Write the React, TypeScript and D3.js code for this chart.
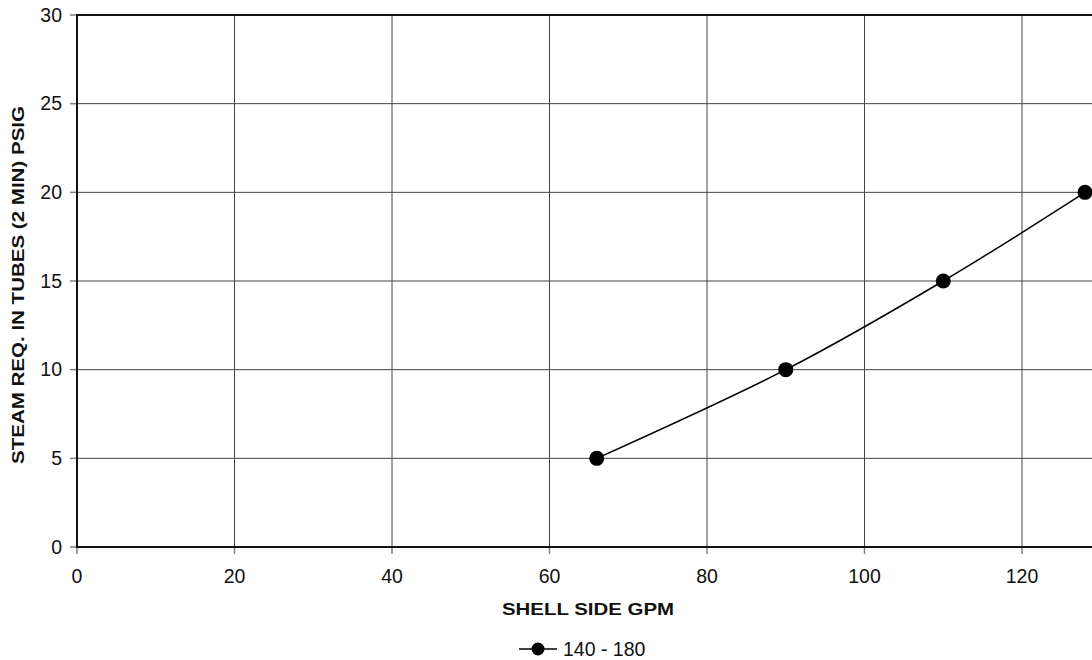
import React from "react";
import * as d3 from "d3";

const gpm = [66, 90, 110, 128];
const psig = [5, 10, 15, 20];
const xTicks = [0, 20, 40, 60, 80, 100, 120, 140];
const yTicks = [0, 5, 10, 15, 20, 25, 30];
const seriesName = "140 - 180";
const xTitle = "SHELL SIDE GPM";
const yTitle = "STEAM REQ. IN TUBES (2 MIN) PSIG";

const W = 1092;
const H = 660;
const left = 77;
const top = 15;
const bottom = 547;

export default function App() {
  const x = d3.scaleLinear().domain([0, 140]).range([left, left + 140 * 7.875]);
  const y = d3.scaleLinear().domain([0, 30]).range([bottom, top]);
  const pts: [number, number][] = gpm.map((g, i) => [x(g), y(psig[i])]);
  const line = d3.line().curve(d3.curveCardinal.tension(0))(pts) || "";
  const right = x(140);
  const font = "'Liberation Sans', Arial, sans-serif";
  return (
    <svg width={W} height={H} style={{ position: "absolute", left: 0, top: 0 }} fontFamily={font}>
      <rect x={0} y={0} width={W} height={H} fill="#fff" />
      {yTicks.slice(1).map((t) => (
        <line key={"gy" + t} x1={left} x2={right} y1={y(t)} y2={y(t)} stroke="#444" strokeWidth={1} />
      ))}
      {xTicks.slice(1).map((t) => (
        <line key={"gx" + t} x1={x(t)} x2={x(t)} y1={top} y2={bottom} stroke="#444" strokeWidth={1} />
      ))}
      {yTicks.map((t) => (
        <g key={"ty" + t}>
          <line x1={left - 7} x2={left} y1={y(t)} y2={y(t)} stroke="#808080" strokeWidth={1.5} />
          <text x={62} y={y(t)} dy="0.35em" textAnchor="end" fontSize={19.5} fill="#111">
            {t}
          </text>
        </g>
      ))}
      {xTicks.map((t) => (
        <g key={"tx" + t}>
          <line x1={x(t)} x2={x(t)} y1={bottom} y2={bottom + 7} stroke="#808080" strokeWidth={1.5} />
          {x(t) < W - 20 && (
            <text x={x(t)} y={583} textAnchor="middle" fontSize={19.5} fill="#111">
              {t}
            </text>
          )}
        </g>
      ))}
      <rect x={left} y={top} width={right - left} height={bottom - top} fill="none" stroke="#111" strokeWidth={2} />
      <path d={line} fill="none" stroke="#000" strokeWidth={1.5} />
      {pts.map((p, i) => (
        <circle key={i} cx={p[0]} cy={p[1]} r={7.5} fill="#000" />
      ))}
      <text
        x={588}
        y={615}
        textAnchor="middle"
        fontSize={17}
        fontWeight="bold"
        fill="#111"
        textLength={172}
        lengthAdjust="spacingAndGlyphs"
      >
        {xTitle}
      </text>
      <text
        transform={`translate(24,285) rotate(-90)`}
        textAnchor="middle"
        fontSize={17}
        fontWeight="bold"
        fill="#111"
        textLength={358}
        lengthAdjust="spacingAndGlyphs"
      >
        {yTitle}
      </text>
      <line x1={519} x2={557} y1={649} y2={649} stroke="#000" strokeWidth={1.5} />
      <circle cx={538} cy={649} r={6.5} fill="#000" />
      <text x={563} y={649} dy="0.35em" fontSize={19.5} fill="#111">
        {seriesName}
      </text>
    </svg>
  );
}
